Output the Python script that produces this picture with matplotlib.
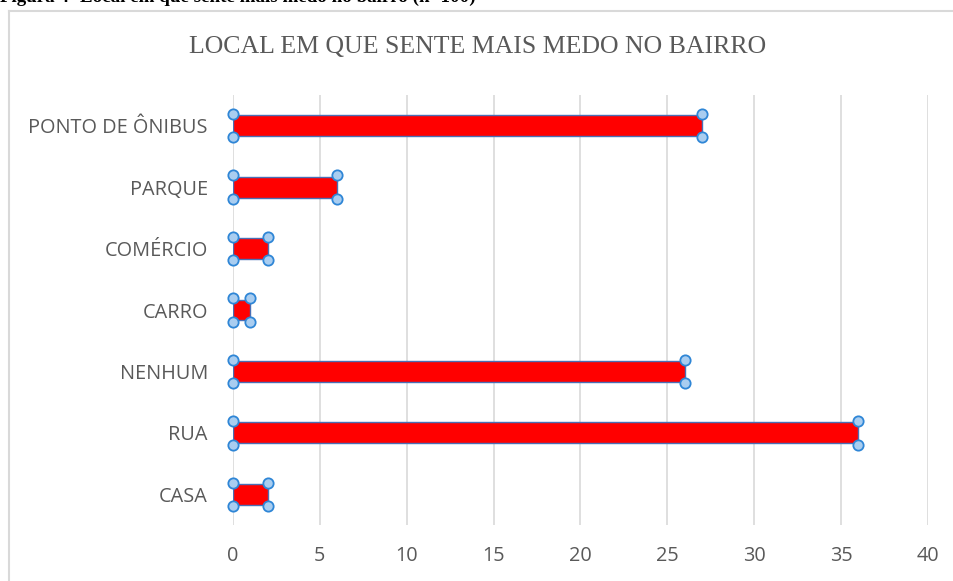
import matplotlib.pyplot as plt
from matplotlib.lines import Line2D

# dados da figura (n=100)
categorias = ["PONTO DE ÔNIBUS", "PARQUE", "COMÉRCIO", "CARRO", "NENHUM", "RUA", "CASA"]
valores = [27, 6, 2, 1, 26, 36, 2]
x_ticks = [0, 5, 10, 15, 20, 25, 30, 35, 40]

W, H = 954, 581
fig = plt.figure(figsize=(W / 100, H / 100), dpi=100)

# legenda da figura, cortada no topo
fig.text(0.0, 1.0 + 3 / H, "Figura 4- Local em que sente mais medo no bairro (n=100)",
         ha="left", va="center", fontsize=13.7, fontweight="bold",
         family="Liberation Serif", color="black")

# moldura do gráfico
fig.add_artist(Line2D([9 / W, 9 / W], [0, 1 - 11 / H], color="#d9d9d9", lw=1.5))
fig.add_artist(Line2D([9 / W, 1], [1 - 11 / H, 1 - 11 / H], color="#d9d9d9", lw=1.5))

fig.text(478 / W, 1 - 47 / H, "LOCAL EM QUE SENTE MAIS MEDO NO BAIRRO",
         ha="center", va="center", fontsize=18.6, family="Liberation Serif", color="#595959")

ax = fig.add_axes([233 / W, 56 / H, (928 - 233) / W, (525 - 95) / H])
y = list(range(len(categorias)))[::-1]
y = [v + 0.5 for v in y]
h = 0.34

ax.barh(y, valores, height=h, color="#ff0000", edgecolor="#4a6fb5", linewidth=1.0,
        joinstyle="round", zorder=3)

# alças de seleção nos cantos das barras
xs, ys = [], []
for yi, v in zip(y, valores):
    for xv in (0, v):
        for dy in (-h / 2 - 0.02, h / 2 + 0.02):
            xs.append(xv)
            ys.append(yi + dy)
ax.scatter(xs, ys, s=55, facecolor="#a9cdf0", edgecolor="#2f86d6", linewidth=1.3, zorder=5,
           clip_on=False)

ax.set_xlim(0, 40)
ax.set_ylim(0, len(categorias))
ax.set_xticks(x_ticks)
ax.set_yticks(y)
ax.set_yticklabels(categorias)
ax.grid(axis="x", color="#d9d9d9", lw=1.2, zorder=0)
for s in ax.spines.values():
    s.set_visible(False)
ax.tick_params(axis="both", length=0, colors="#595959", labelsize=14.3)
ax.tick_params(axis="y", pad=18)
ax.tick_params(axis="x", pad=15)
for lab in ax.get_xticklabels() + ax.get_yticklabels():
    lab.set_family("Open Sans")

fig.savefig("out.png", dpi=100)
